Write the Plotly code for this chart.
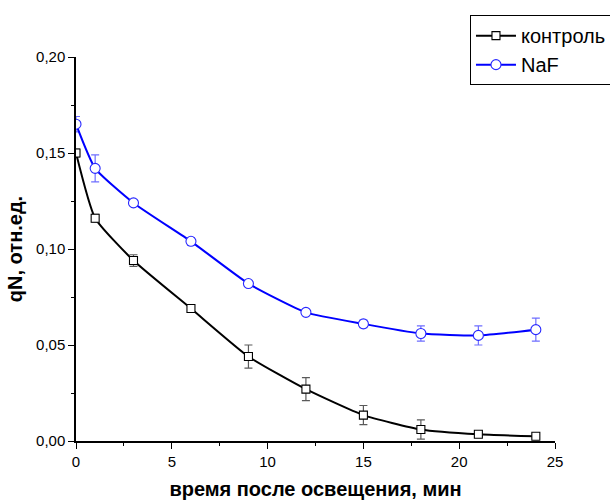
import plotly.graph_objects as go

# time after illumination, min
time_min = [0, 1, 3, 6, 9, 12, 15, 18, 21, 24]

# qN, rel. units, with standard errors
control_qn = [0.150, 0.116, 0.094, 0.069, 0.044, 0.027, 0.0135, 0.006, 0.0035, 0.0025]
control_err = [0.002, 0.002, 0.003, 0.002, 0.006, 0.006, 0.005, 0.005, 0.001, 0.001]

naf_qn = [0.165, 0.142, 0.124, 0.104, 0.082, 0.067, 0.061, 0.056, 0.055, 0.058]
naf_err = [0.004, 0.007, 0.001, 0.002, 0.001, 0.001, 0.002, 0.004, 0.005, 0.006]

FONT = "Liberation Sans, Arial, sans-serif"

fig = go.Figure()

fig.add_trace(go.Scatter(
    x=time_min, y=control_qn, name="контроль",
    mode="lines+markers",
    line=dict(color="black", width=2, shape="spline", smoothing=0.5),
    marker=dict(symbol="square", size=8, color="white",
                line=dict(color="black", width=1.1)),
    error_y=dict(type="data", array=control_err, visible=True,
                 color="rgb(90,90,90)", thickness=1.2, width=4),
))

fig.add_trace(go.Scatter(
    x=time_min, y=naf_qn, name="NaF",
    mode="lines+markers",
    line=dict(color="rgb(0,0,255)", width=2, shape="spline", smoothing=0.5),
    marker=dict(symbol="circle", size=10, color="white",
                line=dict(color="rgb(40,40,255)", width=1.1)),
    error_y=dict(type="data", array=naf_err, visible=True,
                 color="rgb(110,110,255)", thickness=1.2, width=4),
))

fig.update_layout(
    width=610, height=500,
    margin=dict(l=76, r=55, t=57, b=59, autoexpand=False),
    paper_bgcolor="white", plot_bgcolor="white",
    separators=", ",
    font=dict(family=FONT, size=15, color="black"),
    showlegend=True,
    legend=dict(
        x=0.8225, y=1.109, xanchor="left", yanchor="top",
        bgcolor="white", bordercolor="black", borderwidth=1,
        font=dict(family=FONT, size=20, color="black"),
        tracegroupgap=0, itemwidth=40,
    ),
)

fig.update_xaxes(
    range=[0, 25], dtick=5, tick0=0, automargin=False,
    showline=True, linecolor="black", linewidth=1.5,
    ticks="outside", ticklen=6, tickwidth=1.2, tickcolor="black",
    minor=dict(ticks="outside", dtick=2.5, ticklen=3, tickcolor="black"),
    showgrid=False, zeroline=False,
    tickfont=dict(family=FONT, size=15),
    title=dict(text="<b>время после освещения, мин</b>",
               font=dict(family=FONT, size=20), standoff=20),
)

fig.update_yaxes(
    range=[0, 0.20], dtick=0.05, tick0=0, tickformat=".2f", automargin=False,
    showline=True, linecolor="black", linewidth=1.5,
    ticks="outside", ticklen=6, tickwidth=1.2, tickcolor="black",
    minor=dict(ticks="outside", dtick=0.025, ticklen=3, tickcolor="black"),
    showgrid=False, zeroline=False,
    tickfont=dict(family=FONT, size=15),
    title=dict(text="<b>qN, отн.ед.</b>",
               font=dict(family=FONT, size=20), standoff=8),
)

fig.write_html("out.html")
